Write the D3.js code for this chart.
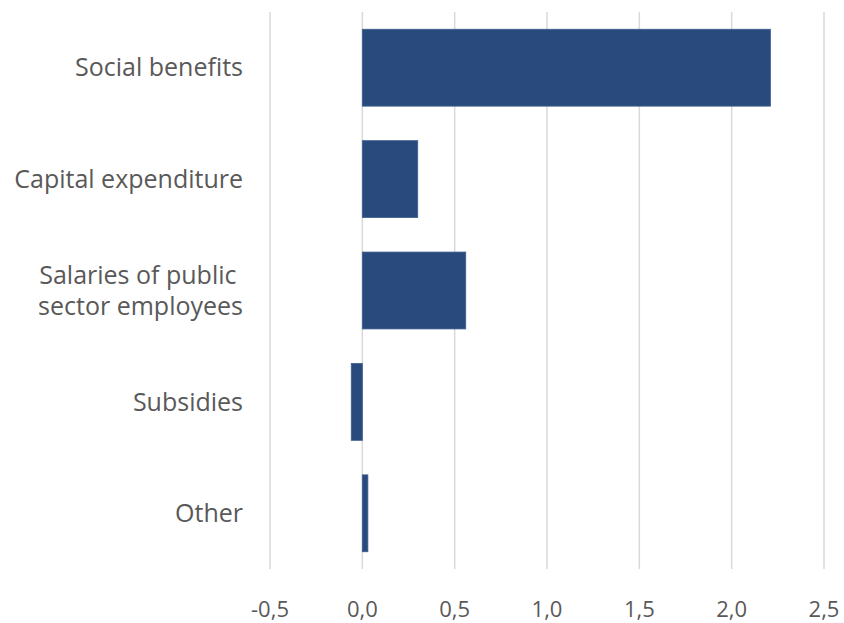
<!DOCTYPE html>
<html><head><meta charset="utf-8">
<script src="https://cdn.jsdelivr.net/npm/d3@7"></script>
<style>body{margin:0;background:#fff}text{white-space:pre}</style>
</head><body>
<svg id="c" width="844" height="623"></svg>
<script>
const categories = ["Social benefits", "Capital expenditure", "Salaries of public \nsector employees", "Subsidies", "Other"];
const values = [2.21, 0.30, 0.56, -0.06, 0.03];
const tickValues = [-0.5, 0, 0.5, 1.0, 1.5, 2.0, 2.5];

const svg = d3.select("#c");
const font = "'Open Sans', 'Noto Sans', sans-serif";
const x = d3.scaleLinear().domain([-0.5, 2.5]).range([270, 824]);
const y = d3.scaleBand().domain(categories).range([12, 569]).paddingInner(0.31).paddingOuter(0.155);

// gridlines
svg.append("g").selectAll("line").data(tickValues).join("line")
  .attr("x1", d => x(d)).attr("x2", d => x(d))
  .attr("y1", 12).attr("y2", 569)
  .attr("stroke", "#d9d9d9").attr("stroke-width", 1.5);

// bars
svg.append("g").selectAll("rect").data(values).join("rect")
  .attr("x", d => x(Math.min(0, d)))
  .attr("width", d => Math.abs(x(d) - x(0)))
  .attr("y", (d, i) => y(categories[i]))
  .attr("height", y.bandwidth())
  .attr("fill", "#294a7d")
  .attr("stroke", "#3d5d90").attr("stroke-width", 0.8);

// x tick labels
const fmt = d => d3.format(".1f")(d).replace(".", ",").replace("−", "-");
svg.append("g").selectAll("text").data(tickValues).join("text")
  .attr("x", d => x(d)).attr("y", 617)
  .attr("text-anchor", "middle")
  .attr("font-family", font).attr("font-size", 22)
  .attr("fill", "#595959")
  .text(fmt);

// category labels
const lab = svg.append("g").selectAll("text").data(categories).join("text")
  .attr("text-anchor", "end")
  .attr("font-family", font).attr("font-size", 25)
  .attr("fill", "#595959")
  .attr("transform", d => `translate(243, ${y(d) + y.bandwidth() / 2})`);
lab.each(function(d) {
  const lines = d.split("\n");
  const lh = 31.3;
  const t = d3.select(this);
  lines.forEach((l, i) => {
    t.append("tspan").attr("x", 0)
      .attr("y", (i - (lines.length - 1) / 2) * lh)
      .attr("dy", "0.35em")
      .text(l);
  });
});
</script>
</body></html>
